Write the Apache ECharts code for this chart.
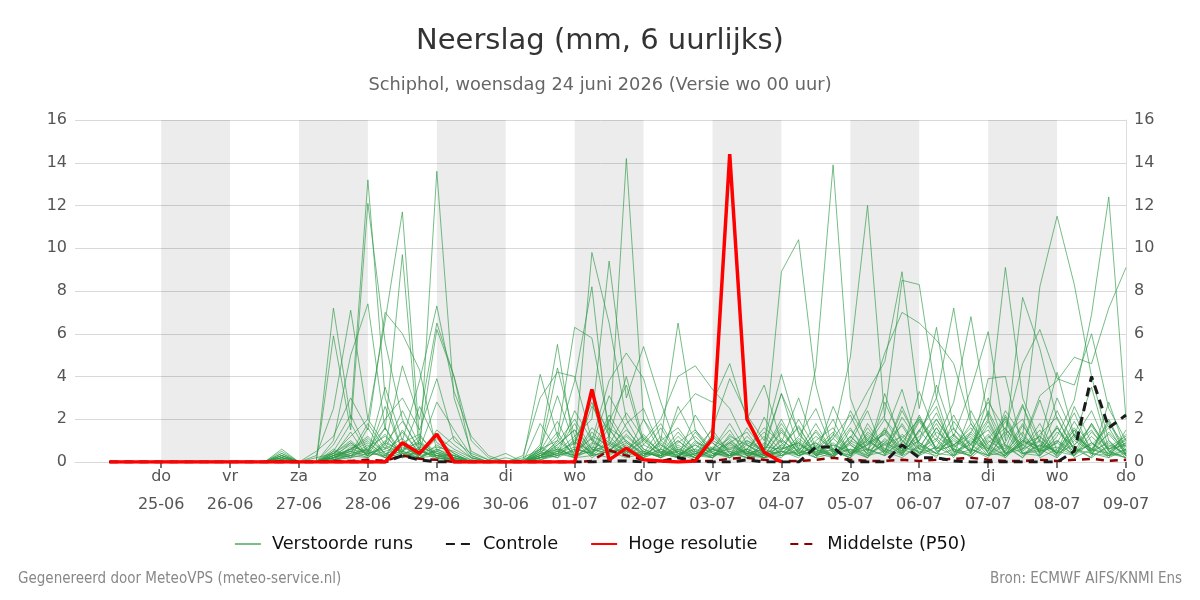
<!DOCTYPE html>
<html>
<head>
    <meta charset="UTF-8">
    <title>Neerslag pluim Schiphol</title>
    <script src="https://cdn.jsdelivr.net/npm/echarts@6/dist/echarts.min.js"></script>
    <style>
        body { margin: 0; background: #fff; }
        #main { width: 1200px; height: 600px; }
    </style>
</head>
<body>
<div id="main"></div>
<script type="text/javascript">
    // tijdstippen (uren na 24-06 00:00), elke 6 uur
    var hours = [6,12,18,24,30,36,42,48,54,60, 66,72,78,84,90,96,102,108,114,120,
        126,132,138,144,150,156,162,168,174,180, 186,192,198,204,210,216,222,228,234,240,
        246,252,258,264,270,276,282,288,294,300, 306,312,318,324,330,336,342,348,354,360];

    // dagen onder de x-as
    var tickHours = [24,48,72,96,120,144,168,192,216,240,264,288,312,336,360];
    var dayNames = ['do','vr','za','zo','ma','di','wo','do','vr','za','zo','ma','di','wo','do'];
    var dayDates = ['25-06','26-06','27-06','28-06','29-06','30-06','01-07','02-07','03-07','04-07','05-07','06-07','07-07','08-07','09-07'];

    // grijze dagbanden
    var bandStart = [24,72,120,168,216,264,312];
    var bandEnd = [48,96,144,192,240,288,336];

    // hoge resolutie (tot 10 dagen)
    var hoogRes = [0,0,0,0,0,0,0,0,0,0, 0,0,0,0,0,0,0,0.9,0.4,1.3,
        0,0,0,0,0,0,0,0,3.4,0.1, 0.65,0.1,0.05,0,0.05,1.1,14.4,2.0,0.45,0];

    var controle = [0,0,0,0,0,0,0,0,0,0, 0,0,0,0,0,0,0,0.3,0.1,0,
        0,0,0,0,0,0,0,0,0,0.05, 0.05,0,0,0.2,0.05,0,0,0.1,0,0,
        0,0.7,0.7,0,0,0,0.8,0.2,0.2,0.05, 0,0,0,0,0,0,0.5,4.0,1.6,2.2];

    var p50 = [0,0,0,0,0,0,0,0,0,0, 0,0,0,0.05,0.05,0.1,0.05,0.3,0.15,0.1,
        0,0,0,0,0,0,0,0,0.05,0.55, 0.3,0.1,0.05,0.2,0.05,0.05,0.15,0.2,0.1,0.05,
        0.05,0.1,0.2,0.1,0.05,0.05,0.1,0.05,0.1,0.15, 0.2,0.1,0.05,0.05,0.1,0.05,0.1,0.15,0.05,0.1];

    // verstoorde runs
    var m1 = [0,0,0,0,0,0,0,0,0,0, 0.2,0,0,7.2,2.0,13.2,3.0,0.5,1.0,0.3, 0.1,0,0,0,0,0.2,0.8,1.5,0.6,2.2,
        0.9,0.3,1.2,0.4,0.1,0.6,1.8,0.5,0.2,1.1, 0.3,0.8,0.2,1.5,0.6,0.3,2.1,0.9,0.4,1.3, 0.5,2.4,0.8,0.2,1.0,0.4,1.9,0.6,0.3,0.8];
    var m2 = [0,0,0,0,0,0,0,0,0,0, 0.4,0,0,5.9,1.5,12.1,5.6,2.0,0.5,0.2, 0,0,0,0,0.1,0.5,1.9,0.3,1.2,0.8,
        2.3,1.1,0.2,0.9,1.5,0.4,0.2,1.0,0.6,3.2, 1.4,0.3,2.6,0.8,0.2,1.6,0.5,3.3,1.2,0.6, 1.8,0.4,0.9,2.7,0.3,1.4,0.7,0.2,2.8,0.5];
    var m3 = [0,0,0,0,0,0,0,0,0,0, 0.1,0,0.3,2.5,7.1,2.0,6.6,11.7,1.0,6.2, 4.0,1.0,0.2,0,0,0.3,0.6,1.8,0.4,1.0,
        0.5,1.3,0.4,0.2,2.2,0.9,0.3,0.6,1.4,0.5, 2.0,0.6,0.3,1.2,0.4,2.8,1.0,0.3,0.7,2.2, 0.6,0.2,1.5,0.8,2.9,0.5,0.3,1.2,0.4,0.9];
    var m4 = [0,0,0,0,0,0,0,0,0,0, 0.3,0,0,1.0,5.0,7.4,1.5,9.7,0.3,13.6, 3.0,0.5,0.1,0,0,1.8,0.5,0.3,1.6,0.9,
        0.3,2.0,0.8,0.3,0.6,1.5,0.4,0.2,0.9,0.4, 1.2,2.5,0.5,0.2,1.8,0.6,0.4,1.4,3.0,0.5, 0.3,1.1,2.0,0.4,0.6,3.0,1.2,0.4,0.2,1.5];
    var m5 = [0,0,0,0,0,0,0,0,0,0, 0.6,0,0.5,1.2,3.0,1.5,7.0,6.0,4.3,0.5, 1.2,0.2,0,0,0.2,0.6,1.0,0.4,2.6,1.5,
        0.6,0.2,1.0,1.6,0.5,0.2,1.2,0.8,0.3,0.5, 0.2,1.0,1.6,0.4,0.8,1.3,3.4,0.6,1.1,0.3, 2.4,0.8,0.3,1.7,0.5,0.9,2.3,0.4,1.0,0.2];
    var m6 = [0,0,0,0,0,0,0,0,0,0, 0.2,0,0,0.5,1.8,0.4,3.5,1.0,3.8,7.3, 3.3,1.2,0.3,0,0,0.4,1.4,0.2,0.8,3.1,
        1.6,0.4,0.3,1.0,0.4,0.6,0.3,1.6,0.5,2.0, 0.5,1.8,0.4,0.9,2.4,0.3,1.1,2.0,0.6,1.6, 0.4,3.0,0.7,0.2,1.3,2.1,0.5,0.8,1.6,0.3];
    var m7 = [0,0,0,0,0,0,0,0,0,0, 0.1,0,0.2,0.4,1.2,2.0,0.8,4.5,2.0,6.5, 4.0,0.3,0,0.2,0,0.2,0.5,1.2,0.3,1.9,
        3.6,0.8,1.8,0.4,0.2,1.0,0.6,0.3,2.1,0.6, 0.9,0.2,1.1,2.2,0.5,1.0,0.3,1.5,2.6,0.4, 1.0,0.5,2.2,0.6,1.8,0.3,1.1,2.4,0.5,0.2];
    var m8 = [0,0,0,0,0,0,0,0,0,0, 0.5,0,0,0.8,2.2,0.5,2.0,3.0,1.5,3.9, 1.0,0.4,0.1,0.4,0,0.1,0.3,2.4,1.0,0.5,
        1.2,0.5,0.2,2.6,1.0,0.3,0.9,0.4,0.6,1.6, 0.4,0.7,2.0,0.3,1.2,0.5,2.6,0.8,0.2,1.9, 0.8,0.3,1.3,2.0,0.4,1.7,0.2,0.6,1.3,0.4];
    var m9 = [0,0,0,0,0,0,0,0,0,0, 0,0,0,0.3,0.6,1.2,0.4,0.2,0.6,0.1, 0,0,0,0,0.1,4.1,1.2,6.3,5.8,1.6,
        1.0,0.4,1.6,0.3,0.8,0.2,1.3,0.5,0.2,0.8, 1.6,0.4,0.2,1.0,0.6,1.4,0.3,0.7,1.8,0.5, 0.3,1.2,0.6,2.6,0.9,0.4,1.5,0.3,0.7,1.2];
    var m10 = [0,0,0,0,0,0,0,0,0,0, 0,0,0,0.2,0.9,0.3,1.6,0.4,0.2,0.5, 0.2,0,0,0,0,0.8,5.5,0.5,9.8,6.5,
        2.0,0.6,0.3,1.2,0.4,0.2,0.9,1.4,0.3,0.5, 0.3,1.5,0.5,0.2,1.4,0.8,0.4,2.2,0.6,1.0, 0.5,1.9,0.3,0.8,1.2,0.4,2.6,0.9,0.3,0.6];
    var m11 = [0,0,0,0,0,0,0,0,0,0, 0.3,0,0,0.1,0.4,1.8,0.6,2.4,0.8,0.3, 0.3,0.1,0,0,0,0.2,1.0,3.8,8.2,1.0,
        14.2,2.0,0.4,0.2,1.0,0.5,0.2,0.8,0.4,0.3, 0.9,0.3,0.5,1.6,0.3,0.9,1.7,0.4,1.0,0.2, 1.4,0.6,0.2,1.0,0.5,2.4,0.8,1.5,0.3,0.4];
    var m12 = [0,0,0,0,0,0,0,0,0,0, 0,0,0,0.4,1.0,0.3,2.6,0.5,1.2,0.4, 0.1,0,0,0,0,0.5,4.4,1.2,2.0,9.4,
        3.0,5.4,2.8,0.5,0.2,0.6,1.1,0.3,0.5,1.8, 0.6,0.2,1.3,0.4,0.8,2.0,0.6,0.3,1.4,0.8, 0.2,0.9,1.6,0.4,0.3,1.0,0.5,1.8,0.6,1.1];
    var m13 = [0,0,0,0,0,0,0,0,0,0, 0.1,0,0,0.2,0.5,0.9,0.3,1.4,0.4,1.2, 0.6,0.2,0,0,0.3,3.0,4.2,4.0,1.0,3.8,
        5.1,3.9,1.0,6.5,1.5,0.6,0.3,1.2,0.4,0.2, 1.1,0.5,0.3,2.4,1.0,0.4,1.3,0.6,2.0,0.7, 1.2,0.3,0.5,1.4,0.2,0.6,1.6,0.5,0.9,0.3];
    var m14 = [0,0,0,0,0,0,0,0,0,0, 0,0,0,0.6,0.2,0.7,1.2,0.4,2.6,0.9, 0.4,0,0,0,0,0.6,3.1,0.8,3.2,1.2,
        4.0,1.0,2.0,4.0,4.5,3.4,2.5,0.8,0.3,1.4, 0.4,0.9,0.2,1.2,0.5,3.2,0.8,0.3,1.6,0.5, 0.8,2.0,0.4,0.6,1.5,0.2,1.0,0.5,1.8,0.7];
    var m15 = [0,0,0,0,0,0,0,0,0,0, 0.2,0,0,0.3,1.4,0.2,0.9,1.9,0.6,2.8, 1.5,0.3,0,0,0,0.3,0.9,2.0,0.6,0.4,
        1.8,2.5,0.6,2.2,3.2,2.8,4.6,2.0,3.6,0.9, 0.3,0.6,1.4,0.5,0.2,1.1,0.4,1.9,0.6,1.3, 0.4,1.3,0.2,1.0,0.7,1.6,0.4,0.9,0.2,0.6];
    var m16 = [0,0,0,0,0,0,0,0,0,0, 0,0,0,0.2,0.6,1.0,0.2,0.7,0.3,1.5, 0.8,0.2,0,0,0,0.4,0.2,1.1,0.4,2.0,
        0.6,1.2,0.4,1.0,0.3,1.6,3.9,2.2,1.0,4.1, 1.3,0.4,0.9,0.3,1.6,0.5,2.4,0.9,0.4,1.2, 0.6,0.3,2.1,0.5,1.2,0.4,0.8,1.7,0.5,0.2];
    var m17 = [0,0,0,0,0,0,0,0,0,0, 0.3,0,0,0.1,0.3,0.6,1.6,0.2,0.5,0.3, 0.2,0,0,0,0,0.2,0.6,0.3,1.4,0.6,
        1.0,0.3,0.8,0.2,1.4,0.4,0.6,1.0,0.5,8.9, 10.4,3.6,0.5,0.3,1.1,0.4,0.9,2.1,0.5,0.8, 1.6,0.4,0.3,1.1,0.6,0.2,1.3,0.5,2.0,0.4];
    var m18 = [0,0,0,0,0,0,0,0,0,0, 0.1,0,0,0.3,0.8,0.4,0.6,1.1,0.2,0.8, 0.3,0,0,0,0,0.6,0.3,0.9,0.5,1.2,
        0.4,1.1,0.5,0.2,0.9,0.6,1.5,0.3,0.8,3.2, 0.6,4.4,13.9,3.0,0.8,1.5,0.4,1.0,2.3,0.6, 0.3,1.0,0.5,1.8,0.4,0.9,0.3,1.4,0.6,1.0];
    var m19 = [0,0,0,0,0,0,0,0,0,0, 0,0,0,0.4,0.2,1.6,0.3,0.9,1.3,0.2, 0.1,0,0,0,0,0.4,1.2,0.3,0.7,0.5,
        1.3,0.5,0.2,0.8,0.3,1.2,0.4,0.6,1.6,0.9, 3.0,0.6,1.2,4.9,12.0,2.0,1.0,0.4,1.6,0.3, 1.1,0.6,1.9,0.4,0.8,0.3,1.2,0.6,0.4,1.3];
    var m20 = [0,0,0,0,0,0,0,0,0,0, 0.2,0,0,0.2,0.5,0.3,1.0,0.4,0.2,0.6, 0.2,0,0,0,0,0.3,0.8,1.5,0.3,0.9,
        0.5,0.2,1.0,0.4,0.6,0.3,1.0,0.4,0.3,1.5, 0.4,1.2,0.6,1.8,3.3,4.7,8.9,2.5,6.3,1.5, 0.8,2.3,0.4,1.2,0.6,1.0,0.3,1.8,0.5,0.9];
    var m21 = [0,0,0,0,0,0,0,0,0,0, 0,0,0,0.1,0.7,0.5,1.3,0.3,0.9,0.4, 0.3,0,0,0,0,0.1,0.5,0.9,2.8,0.4,
        0.9,0.4,0.3,0.6,0.2,1.3,0.5,0.2,0.7,0.6, 1.7,0.3,0.8,0.5,1.0,2.2,8.5,8.3,3.0,7.2, 2.0,0.6,1.4,0.3,0.8,0.5,1.5,0.4,0.3,1.1];
    var m22 = [0,0,0,0,0,0,0,0,0,0, 0.4,0,0,0.2,0.3,0.8,0.2,1.5,0.4,0.7, 0.5,0.1,0,0,0,0.5,0.2,0.6,0.4,1.6,
        0.3,0.8,0.4,1.4,0.5,0.2,0.8,0.4,1.2,0.3, 0.6,0.9,0.3,1.1,2.6,5.1,7.0,6.5,5.7,4.6, 1.8,0.7,0.3,1.0,0.5,1.6,0.6,0.2,0.8,0.4];
    var m23 = [0,0,0,0,0,0,0,0,0,0, 0,0,0,0.5,0.3,0.2,0.9,0.5,0.3,1.1, 0.4,0,0,0,0,0.2,0.4,1.0,0.2,0.7,
        1.5,0.6,0.2,0.5,1.2,0.4,0.3,0.9,0.5,0.4, 1.0,0.3,0.6,0.2,0.9,1.3,0.5,2.0,1.0,2.8, 6.8,2.0,9.1,3.0,1.0,0.4,1.3,0.6,1.9,0.3];
    var m24 = [0,0,0,0,0,0,0,0,0,0, 0.1,0,0,0.3,0.6,1.1,0.4,0.6,0.9,0.2, 0.1,0,0,0,0,0.7,0.3,0.5,1.1,0.3,
        0.8,0.2,0.6,0.3,0.5,0.9,0.2,0.6,0.3,1.0, 0.5,1.4,0.4,0.8,0.3,1.5,0.6,1.0,3.6,1.2, 3.4,6.1,1.0,7.7,5.3,2.0,0.6,0.4,1.4,0.5];
    var m25 = [0,0,0,0,0,0,0,0,0,0, 0.3,0,0,0.2,0.4,0.6,0.2,0.8,0.3,0.5, 0.2,0,0,0,0,0.3,0.7,0.2,0.9,0.6,
        0.4,1.0,0.3,0.7,0.2,0.5,0.9,0.3,0.2,0.6, 0.9,0.3,1.1,0.4,1.3,0.6,0.3,1.5,0.5,0.8, 1.3,0.5,2.4,1.2,8.2,11.5,8.3,4.0,1.0,0.3];
    var m26 = [0,0,0,0,0,0,0,0,0,0, 0,0,0,0.1,0.2,0.4,0.7,0.2,0.5,0.3, 0.1,0,0,0,0,0.2,0.4,0.7,0.3,0.5,
        0.6,0.3,0.9,0.2,0.4,0.7,0.3,0.5,0.2,0.8, 0.3,0.6,0.2,0.9,0.4,0.8,1.2,0.4,0.7,0.3, 0.9,1.5,0.4,0.8,0.3,1.2,2.9,6.9,12.4,2.0];
    var m27 = [0,0,0,0,0,0,0,0,0,0, 0.2,0,0,0.4,0.9,0.3,0.5,0.8,0.2,0.6, 0.3,0,0,0,0,0.4,0.6,0.3,0.5,0.8,
        0.3,0.5,0.2,0.6,0.3,0.2,0.7,0.4,0.6,0.3, 0.8,0.4,0.6,0.3,1.0,0.5,1.8,0.6,0.4,1.1, 0.5,1.7,0.4,0.9,3.1,3.8,4.9,4.6,7.2,9.1];
    var m28 = [0,0,0,0,0,0,0,0,0,0, 0,0,0,0.3,0.5,0.2,0.8,0.3,0.7,0.4, 0.2,0,0,0,0,0.3,0.5,0.2,0.6,0.4,
        0.7,0.2,0.5,0.3,0.8,0.4,0.3,0.6,0.2,0.5, 0.4,0.7,0.3,0.6,0.2,0.9,0.5,1.2,2.0,0.8, 1.4,2.8,1.5,4.6,6.2,3.9,3.6,6.0,2.5,1.0];
    var m29 = [0,0,0,0,0,0,0,0,0,0, 0.1,0,0,0.2,0.6,0.4,0.3,0.5,0.2,0.3, 0.1,0,0,0,0,0.2,0.3,0.6,0.4,0.2,
        0.5,0.3,0.6,0.2,0.4,0.3,0.5,0.2,0.4,0.7, 0.3,0.5,0.8,0.4,0.6,0.3,0.7,0.5,0.3,0.6, 0.4,3.9,4.0,0.6,1.0,4.2,1.2,3.5,0.6,0.8];
    var m30 = [0,0,0,0,0,0,0,0,0,0, 0,0,0,0.1,0.3,0.5,0.2,0.4,0.6,0.2, 0.1,0,0,0,0,0.1,0.4,0.2,0.3,0.5,
        0.2,0.4,0.3,0.5,0.2,0.6,0.3,0.4,0.2,0.3, 0.5,0.2,0.4,0.6,0.3,0.5,0.2,0.8,0.4,0.3, 0.6,0.3,0.8,0.4,0.5,0.7,0.3,0.9,0.4,0.2];

    var members = [m1,m2,m3,m4,m5,m6,m7,m8,m9,m10,m11,m12,m13,m14,m15,
        m16,m17,m18,m19,m20,m21,m22,m23,m24,m25,m26,m27,m28,m29,m30];

    // koppel waarden aan de tijdas
    function pairs(vals) {
        var out = [];
        for (var i = 0; i < vals.length; i++) {
            out.push([hours[i], vals[i]]);
        }
        return out;
    }

    var bands = [];
    for (var b = 0; b < bandStart.length; b++) {
        bands.push([{xAxis: bandStart[b]}, {xAxis: bandEnd[b]}]);
    }

    var font = 'DejaVu Sans';

    var series = [{
        name: 'banden',
        type: 'line',
        data: [],
        silent: true,
        markArea: {
            silent: true,
            itemStyle: {color: 'rgba(0,0,0,0.075)'},
            data: bands
        }
    }];

    for (var k = 0; k < members.length; k++) {
        series.push({
            name: 'Verstoorde runs',
            type: 'line',
            data: pairs(members[k]),
            symbol: 'none',
            silent: true,
            lineStyle: {color: '#2e9a47', width: 1, opacity: 0.65},
            itemStyle: {color: '#8cc99a'}
        });
    }

    series.push({
        name: 'Middelste (P50)',
        type: 'line',
        data: pairs(p50),
        symbol: 'none',
        lineStyle: {color: '#8b0000', width: 2.5, type: [8, 6]},
        itemStyle: {color: '#8b0000'}
    });
    series.push({
        name: 'Controle',
        type: 'line',
        data: pairs(controle),
        symbol: 'none',
        lineStyle: {color: '#1a1a1a', width: 3, type: [9, 6]},
        itemStyle: {color: '#1a1a1a'}
    });
    series.push({
        name: 'Hoge resolutie',
        type: 'line',
        data: pairs(hoogRes),
        symbol: 'none',
        lineStyle: {color: '#ff0000', width: 3.5},
        itemStyle: {color: '#ff0000'}
    });

    var myChart = echarts.init(document.getElementById('main'));

    var option = {
        backgroundColor: '#ffffff',
        animation: false,
        textStyle: {fontFamily: font},
        title: [{
            text: 'Neerslag (mm, 6 uurlijks)',
            left: 'center',
            top: 22,
            textStyle: {fontFamily: font, fontSize: 29, fontWeight: 'normal', color: '#333333'}
        }, {
            text: 'Schiphol, woensdag 24 juni 2026 (Versie wo 00 uur)',
            left: 'center',
            top: 71,
            textStyle: {fontFamily: font, fontSize: 17.8, fontWeight: 'normal', color: '#666666'}
        }],
        legend: {
            data: ['Verstoorde runs', 'Controle', 'Hoge resolutie', 'Middelste (P50)'],
            left: 'center',
            top: 530,
            itemWidth: 26,
            itemHeight: 12,
            itemGap: 32,
            itemStyle: {opacity: 0},
            textStyle: {fontFamily: font, fontSize: 17.8, color: '#111111', padding: [0, 0, 0, 6]}
        },
        grid: {left: 75, right: 74, top: 120, bottom: 138},
        xAxis: {
            type: 'value',
            min: -6,
            max: 360,
            splitLine: {show: false},
            axisLine: {show: true, lineStyle: {color: '#d9d9d9'}},
            axisTick: {
                show: true,
                customValues: tickHours,
                length: 6,
                lineStyle: {color: '#777777', width: 2}
            },
            axisLabel: {
                customValues: tickHours,
                color: '#555555',
                fontSize: 16,
                lineHeight: 28,
                margin: 1,
                formatter: function (v) {
                    var idx = tickHours.indexOf(v);
                    if (idx < 0) return '';
                    return dayNames[idx] + '\n' + dayDates[idx];
                }
            }
        },
        yAxis: [{
            type: 'value',
            min: 0,
            max: 16,
            interval: 2,
            position: 'left',
            axisLine: {show: false},
            axisTick: {show: false},
            axisLabel: {color: '#555555', fontSize: 16, margin: 8},
            splitLine: {lineStyle: {color: '#d9d9d9'}}
        }, {
            type: 'value',
            min: 0,
            max: 16,
            interval: 2,
            position: 'right',
            axisLine: {show: true, lineStyle: {color: '#dddddd'}},
            axisTick: {show: false},
            axisLabel: {color: '#555555', fontSize: 16, margin: 8},
            splitLine: {show: false}
        }],
        graphic: [{
            type: 'text',
            left: 18,
            top: 572,
            style: {text: 'Gegenereerd door MeteoVPS (meteo-service.nl)', fill: '#888888',
                font: '15px "DejaVu Sans Condensed", "DejaVu Sans"'}
        }, {
            type: 'text',
            right: 18,
            top: 572,
            style: {text: 'Bron: ECMWF AIFS/KNMI Ens', fill: '#888888',
                font: '15px "DejaVu Sans Condensed", "DejaVu Sans"'}
        }],
        series: series
    };

    myChart.setOption(option);
</script>
</body>
</html>
